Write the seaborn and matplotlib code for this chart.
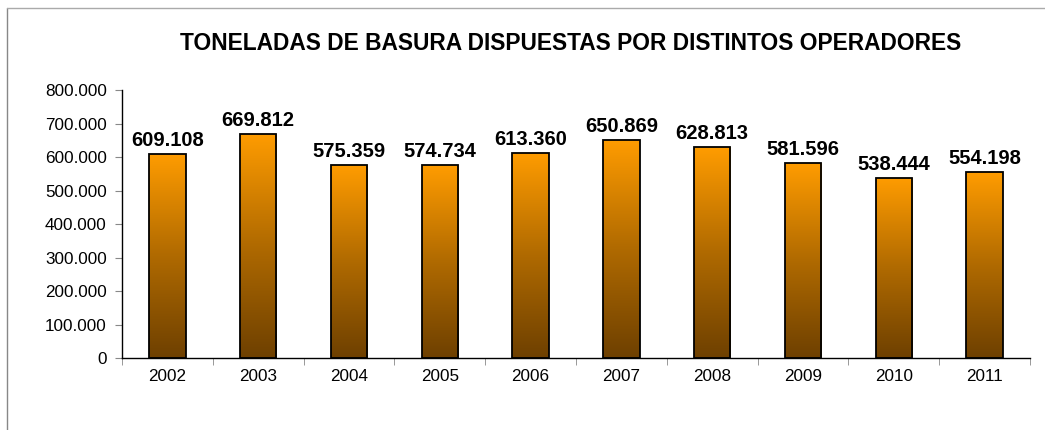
import numpy as np
import pandas as pd
import seaborn as sns
import matplotlib.pyplot as plt
from matplotlib.colors import LinearSegmentedColormap
from matplotlib.lines import Line2D

years = ['2002', '2003', '2004', '2005', '2006', '2007', '2008', '2009', '2010', '2011']
toneladas = [609108, 669812, 575359, 574734, 613360, 650869, 628813, 581596, 538444, 554198]
title = 'TONELADAS DE BASURA DISPUESTAS POR DISTINTOS OPERADORES'

def fmt_miles(v):
    return f'{int(v):,}'.replace(',', '.')

sns.set_style('white')
plt.rcParams['font.family'] = ['Liberation Sans', 'DejaVu Sans']
plt.rcParams['text.color'] = 'black'
plt.rcParams['xtick.color'] = 'black'
plt.rcParams['ytick.color'] = 'black'

df = pd.DataFrame({'year': years, 'ton': toneladas})

fig = plt.figure(figsize=(10.45, 4.3), dpi=100)
ax = fig.add_axes([0.1167, 0.1674, 0.9856 - 0.1167, 0.7907 - 0.1674])

sns.barplot(data=df, x='year', y='ton', width=0.4, color='#ff9900',
            edgecolor='black', linewidth=1.3, ax=ax)

# gradient fill inside each bar: orange at top, dark brown at bottom
cmap = LinearSegmentedColormap.from_list('grad', ['#6e4000', '#b06a00', '#ff9c00'])
grad = np.linspace(0, 1, 256).reshape(-1, 1)
for patch in ax.patches:
    x0, y0 = patch.get_x(), patch.get_y()
    w, h = patch.get_width(), patch.get_height()
    im = ax.imshow(grad, cmap=cmap, origin='lower', aspect='auto',
                   extent=[x0, x0 + w, y0, y0 + h], zorder=patch.get_zorder() - 0.1)
    im.set_clip_path(patch)
    patch.set_facecolor('none')
    ax.text(x0 + w / 2, y0 + h + 12000, fmt_miles(h), ha='center', va='bottom',
            fontsize=14.5, fontweight='bold', color='black')

ax.set_xlim(-0.5, len(years) - 0.5)
ax.set_ylim(0, 800000)
ax.set_yticks(range(0, 800001, 100000))
ax.set_yticklabels([fmt_miles(v) for v in range(0, 800001, 100000)], fontsize=12.3)
ax.set_xticks(range(len(years)))
ax.set_xticklabels(years, fontsize=12.3)
ax.set_xticks(np.arange(-0.5, len(years), 1), minor=True)
ax.tick_params(axis='x', which='major', length=0, pad=8)
ax.tick_params(axis='x', which='minor', length=5, color='#888888', direction='out', bottom=True)
ax.tick_params(axis='y', length=5, color='#888888', labelcolor='black', direction='out', left=True, pad=6)
ax.tick_params(axis='x', labelcolor='black')
ax.set_xlabel('')
ax.set_ylabel('')
for s in ['top', 'right']:
    ax.spines[s].set_visible(False)
for s in ['left', 'bottom']:
    ax.spines[s].set_color('black')
    ax.spines[s].set_linewidth(1.0)

fig.text(0.546, 0.900, title, ha='center', va='center', fontsize=16.4,
         fontweight='bold', color='black')

# outer chart frame (top and left edges visible)
fig.add_artist(Line2D([7 / 1045, 7 / 1045], [0, 1 - 8 / 430], transform=fig.transFigure,
                      color='#888888', linewidth=1))
fig.add_artist(Line2D([7 / 1045, 1], [1 - 8 / 430, 1 - 8 / 430], transform=fig.transFigure,
                      color='#aaaaaa', linewidth=1))

fig.savefig('out.png', dpi=100)
